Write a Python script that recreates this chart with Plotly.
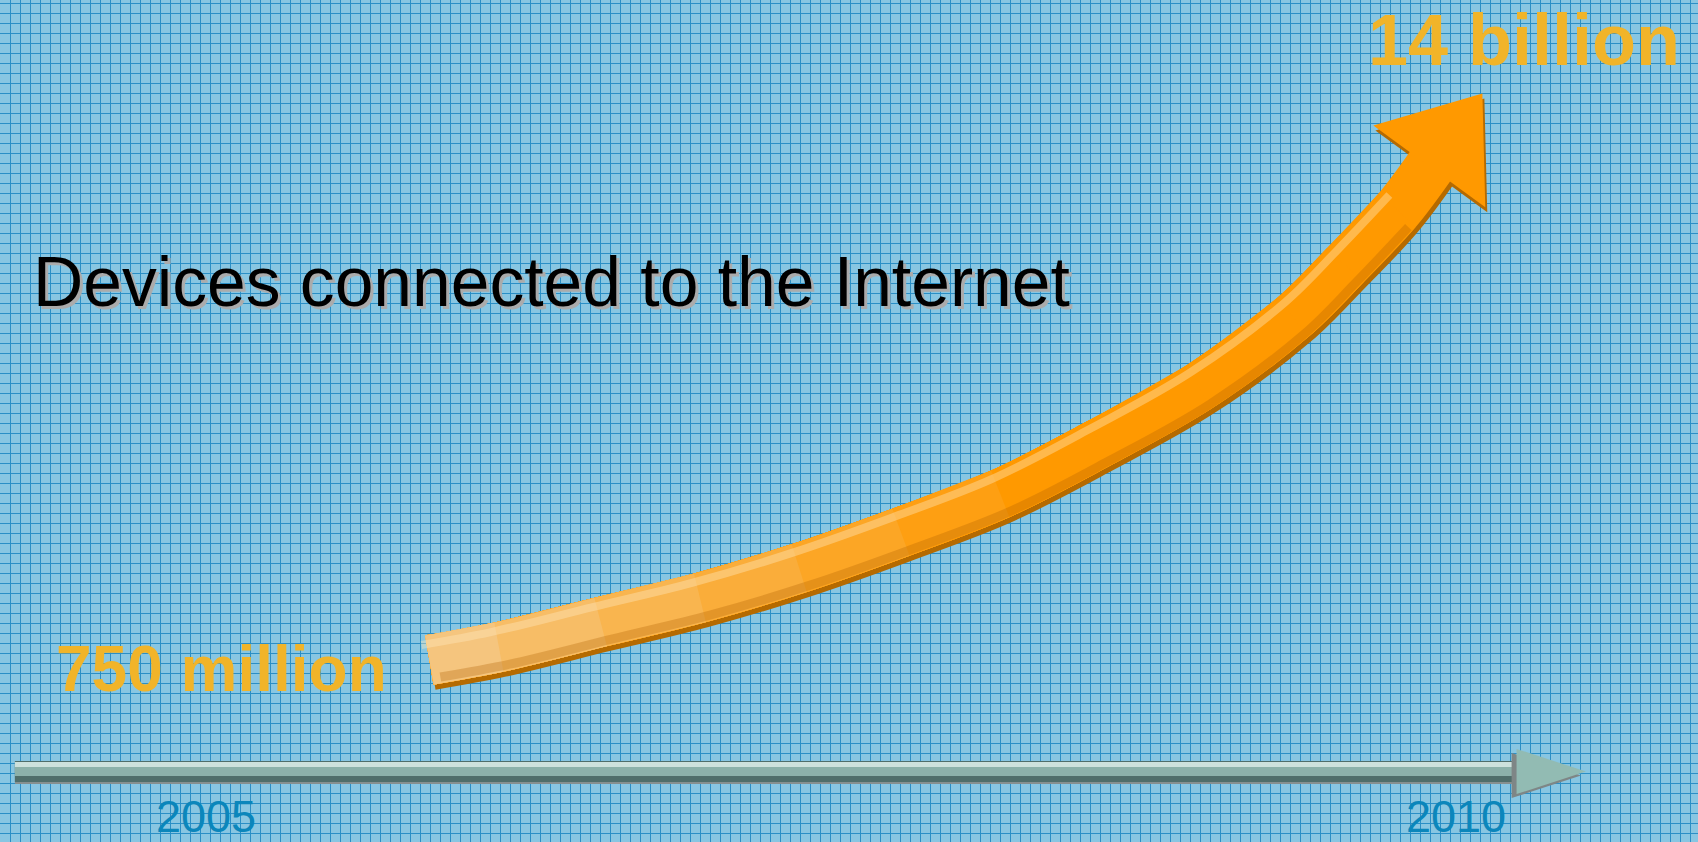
import plotly.graph_objects as go

# ---------------- data ----------------
timeline_years = [2005, 2010]
timeline_labels = ["2005", "2010"]
curve_years = [2005.90, 2006.18, 2006.59, 2006.99, 2007.39, 2007.80, 2008.20,
               2008.60, 2009.00, 2009.38, 2009.59, 2009.80, 2010.00]
curve_devices_bn = [0.75, 1.08, 1.72, 2.34, 3.10, 4.02, 5.00,
                    6.30, 7.73, 9.52, 10.85, 12.26, 14.00]
title_text = "Devices connected to the Internet"
start_label = f"{int(round(curve_devices_bn[0] * 1000))} million"
end_label = f"{int(round(curve_devices_bn[-1]))} billion"

# timeline arrow extent (years)
timeline_start, timeline_end, timeline_tip = 2004.23, 2010.35, 2010.56

# ---------------- layout constants ----------------
W, H = 1698, 842
PX_2005, PX_PER_YEAR = 206, 248.2
PY_BASE, PX_PER_BN = 660, 39.09

X_RANGE = [2005 - PX_2005 / PX_PER_YEAR, 2005 + (W - PX_2005) / PX_PER_YEAR]
Y_RANGE = [curve_devices_bn[0] - (H - PY_BASE) / PX_PER_BN,
           curve_devices_bn[0] + PY_BASE / PX_PER_BN]

FONT = "Liberation Sans, Arial, sans-serif"
BG = "#88C6E2"
GRID = "#2A8FC6"
ORANGE = (255, 153, 0)
PEACH = (244, 202, 140)
BODY_W = 50
HEAD_SIZE = 120


def shifted_axes(dx_px, dy_px):
    xr = [X_RANGE[0] - dx_px / PX_PER_YEAR, X_RANGE[1] - dx_px / PX_PER_YEAR]
    yr = [Y_RANGE[0] + dy_px / PX_PER_BN, Y_RANGE[1] + dy_px / PX_PER_BN]
    return xr, yr


def grad(t):
    t = max(0.0, min(1.0, t)) ** 0.8
    c = [round(a + (b - a) * t) for a, b in zip(PEACH, ORANGE)]
    return f"rgb({c[0]},{c[1]},{c[2]})"


fig = go.Figure()

# ---------- timeline (base axes: x = years, y = pixels) ----------
tl_x = [timeline_start, timeline_end]
fig.add_trace(go.Scatter(x=tl_x, y=[774, 774], mode="lines",
                         line=dict(color="#86908F", width=20)))
fig.add_trace(go.Scatter(x=tl_x, y=[771.5, 771.5], mode="lines",
                         line=dict(color="#4F6E6A", width=21)))
fig.add_trace(go.Scatter(x=tl_x, y=[769, 769], mode="lines",
                         line=dict(color="#8CB1AA", width=14)))
fig.add_trace(go.Scatter(x=tl_x, y=[764.5, 764.5], mode="lines",
                         line=dict(color="#CDE1DC", width=5)))
fig.add_trace(go.Scatter(x=[timeline_end - 0.02, timeline_tip - 0.02], y=[775.5, 775.5],
                         mode="markers",
                         marker=dict(symbol="arrow", size=[0, 73], angleref="previous", opacity=1,
                                     color="#7E8686", line=dict(width=0))))
fig.add_trace(go.Scatter(x=[timeline_end, timeline_tip], y=[771.5, 771.5],
                         mode="markers",
                         marker=dict(symbol="arrow", size=[0, 73], angleref="previous", opacity=1,
                                     color="#92BBB3", line=dict(width=0))))

# ---------- growth arrow ----------
n = len(curve_years)
# shadow (x2/y2)
fig.add_trace(go.Scatter(x=curve_years, y=curve_devices_bn, xaxis="x2", yaxis="y2",
                         mode="lines+markers",
                         line=dict(color="#B56A00", width=BODY_W, shape="spline"),
                         marker=dict(symbol="triangle-up", size=[0] * (n - 1) + [HEAD_SIZE],
                                     angleref="previous", opacity=1, color="#B56A00",
                                     line=dict(width=0))))
# body (x3/y3)
fig.add_trace(go.Scatter(x=curve_years, y=curve_devices_bn, xaxis="x3", yaxis="y3",
                         mode="lines+markers",
                         line=dict(color=f"rgb{ORANGE}", width=BODY_W, shape="spline"),
                         marker=dict(symbol="triangle-up", size=[0] * (n - 1) + [HEAD_SIZE],
                                     angleref="previous", opacity=1, color=f"rgb{ORANGE}",
                                     line=dict(width=0))))
t_span = 2008.4 - curve_years[0]
for k in range(n - 2, 0, -1):
    mid = (curve_years[k - 1] + curve_years[k]) / 2
    fig.add_trace(go.Scatter(x=curve_years[:k + 1], y=curve_devices_bn[:k + 1],
                             xaxis="x3", yaxis="y3", mode="lines",
                             line=dict(color=grad((mid - curve_years[0]) / t_span),
                                       width=BODY_W, shape="spline")))
# highlight (x4/y4) and inner dark band (x5/y5)
fig.add_trace(go.Scatter(x=curve_years[:-1], y=curve_devices_bn[:-1], xaxis="x4", yaxis="y4",
                         mode="lines",
                         line=dict(color="rgba(255,232,190,0.40)", width=8, shape="spline")))
fig.add_trace(go.Scatter(x=curve_years[:-1], y=curve_devices_bn[:-1], xaxis="x5", yaxis="y5",
                         mode="lines",
                         line=dict(color="rgba(175,95,0,0.30)", width=9, shape="spline")))

# ---------- axes ----------
hidden = dict(visible=False, fixedrange=True, showgrid=False, zeroline=False)
layout_axes = {}
for i, (dx, dy) in zip([2, 3, 4, 5], [(2, 5), (0, 0), (-8, -15), (11, 17)]):
    xr, yr = shifted_axes(dx, dy)
    layout_axes[f"xaxis{i}"] = dict(hidden, range=xr, overlaying="x")
    layout_axes[f"yaxis{i}"] = dict(hidden, range=yr, overlaying="y")

# ---------- text ----------
ann = []
ann.append(dict(text=title_text, xref="paper", yref="y", x=(31 + 3) / W, y=281.5 + 3,
                xanchor="left", yanchor="middle", showarrow=False,
                font=dict(family=FONT, size=69.6, color="#ABABAB")))
ann.append(dict(text=title_text, xref="paper", yref="y", x=31 / W, y=281.5,
                xanchor="left", yanchor="middle", showarrow=False,
                font=dict(family=FONT, size=69.6, color="#000000")))
ann.append(dict(text=f"<b>{end_label}</b>", xref="paper", yref="y", x=1366 / W, y=40,
                xanchor="left", yanchor="middle", showarrow=False,
                font=dict(family=FONT, size=72, color="#F1B429")))
ann.append(dict(text=f"<b>{start_label}</b>", xref="paper", yref="y", x=54 / W, y=669,
                xanchor="left", yanchor="middle", showarrow=False,
                font=dict(family=FONT, size=64, color="#F1B429")))
for yr, lab, xs in zip(timeline_years, timeline_labels, [0, 9]):
    ann.append(dict(text=lab, xref="x", yref="y", x=yr, y=816, xshift=xs,
                    xanchor="center", yanchor="middle", showarrow=False,
                    font=dict(family=FONT, size=45, color="#0B86BB")))

fig.update_layout(
    width=W, height=H, margin=dict(l=0, r=0, t=0, b=0, pad=0),
    paper_bgcolor=BG, plot_bgcolor=BG, showlegend=False, hovermode=False,
    xaxis=dict(range=X_RANGE, fixedrange=True, showgrid=True, gridcolor=GRID, gridwidth=1,
               tick0=2005 + (0.7 - PX_2005) / PX_PER_YEAR, dtick=10 / PX_PER_YEAR,
               showticklabels=False, ticks="", zeroline=False, showline=False),
    yaxis=dict(range=[H, 0], fixedrange=True, showgrid=True, gridcolor=GRID, gridwidth=1,
               tick0=3.3, dtick=10, showticklabels=False, ticks="", zeroline=False,
               showline=False),
    annotations=ann,
    **layout_axes,
)

fig.write_html("out.html", include_plotlyjs=True, full_html=True,
               config={"displayModeBar": False},
               post_script="document.body.style.margin='0';document.body.style.overflow='hidden';")
